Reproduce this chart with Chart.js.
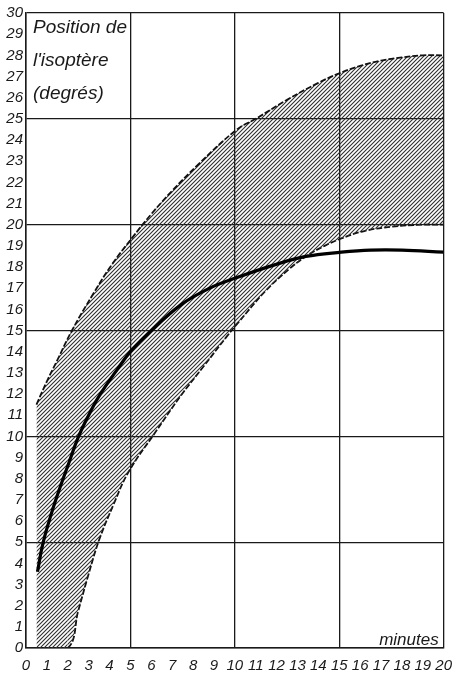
<!DOCTYPE html>
<html>
<head>
<meta charset="utf-8">
<script src="https://cdn.jsdelivr.net/npm/chart.js@4/dist/chart.umd.min.js"></script>
<style>
  html, body { margin: 0; padding: 0; background: #fff; }
  #wrap { width: 461px; height: 674px; }
</style>
</head>
<body>
<div id="wrap"><canvas id="isoChart"></canvas></div>
<script>
// values (minutes, degrees)
const mainX = [0.55, 0.8, 1.2, 1.6, 2.0, 2.5, 3.0, 3.5, 4.4, 5.0, 5.9, 7.4, 8.8, 10.1, 11.9, 13.4, 15.1, 16.5, 18, 20];
const mainY = [3.6, 4.9, 6.3, 7.5, 8.6, 9.95, 11.0, 11.9, 13.2, 14.0, 14.9, 16.2, 17.0, 17.5, 18.1, 18.5, 18.7, 18.8, 18.8, 18.7];

const upperX = [0.5, 1.0, 1.5, 2.2, 3.2, 4.1, 5.1, 6.0, 7.0, 8.2, 10.1, 11.0, 12.5, 14, 15, 16, 17, 18, 19, 20];
const upperY = [11.5, 12.6, 13.6, 15.0, 16.7, 18.1, 19.4, 20.5, 21.6, 22.8, 24.5, 25.0, 25.9, 26.7, 27.15, 27.5, 27.75, 27.9, 28, 28];

const lowerX = [0.5, 2.0, 2.5, 3.0, 3.5, 4.2, 4.9, 6.2, 7.4, 8.5, 9.6, 10.1, 11.5, 12.6, 13.4, 14.3, 15.1, 16.2, 17.5, 19, 20];
const lowerY = [0, 0, 1.75, 3.5, 5.1, 6.8, 8.3, 10.2, 11.9, 13.3, 14.7, 15.3, 16.9, 17.9, 18.5, 19.0, 19.35, 19.7, 19.9, 20, 20];

const titleLines = ['Position de', "l'isoptère", '(degrés)'];
const xLabel = 'minutes';

const FONT = '"Liberation Sans", sans-serif';
const INK = '#1a1a1a';

function toPoints(xs, ys) {
    return xs.map((x, i) => ({ x: x, y: ys[i] }));
}

// diagonal hatching for the band
function makeHatch() {
    const size = 4;
    const c = document.createElement('canvas');
    c.width = size;
    c.height = size;
    const g = c.getContext('2d');
    g.strokeStyle = '#2e2e2e';
    g.lineWidth = 1.1;
    g.beginPath();
    g.moveTo(-1, size + 1);
    g.lineTo(size + 1, -1);
    g.moveTo(-1, 1);
    g.lineTo(1, -1);
    g.moveTo(size - 1, size + 1);
    g.lineTo(size + 1, size - 1);
    g.stroke();
    return g.createPattern(c, 'repeat');
}

const hatch = makeHatch();

// texts written inside the plot
const labelsPlugin = {
    id: 'labels',
    afterDraw(chart) {
        const ctx = chart.ctx;
        const xs = chart.scales.x, ys = chart.scales.y;
        ctx.save();
        ctx.fillStyle = INK;
        ctx.font = 'italic 19px ' + FONT;
        ctx.textAlign = 'left';
        ctx.textBaseline = 'alphabetic';
        const left = xs.getPixelForValue(0) + 7;
        const top = ys.getPixelForValue(30);
        titleLines.forEach((t, i) => {
            ctx.fillText(t, left, top + 20 + i * 33);
        });
        ctx.font = 'italic 17px ' + FONT;
        ctx.textAlign = 'right';
        ctx.fillText(xLabel, xs.getPixelForValue(20) - 5, ys.getPixelForValue(0) - 3);
        ctx.restore();
    }
};

const gridColor = ctx => (ctx.tick && ctx.tick.value % 5 === 0) ? INK : 'transparent';

new Chart(document.getElementById('isoChart'), {
    type: 'line',
    data: {
        datasets: [
            {
                // mean curve
                data: toPoints(mainX, mainY),
                borderColor: '#000',
                borderWidth: 3.2,
                pointRadius: 0,
                tension: 0.4,
                fill: false
            },
            {
                // upper limit of the band
                data: toPoints(upperX, upperY),
                borderColor: '#111',
                borderWidth: 1.8,
                borderDash: [6, 2],
                pointRadius: 0,
                tension: 0.4,
                backgroundColor: hatch,
                fill: '+1'
            },
            {
                // lower limit of the band
                data: toPoints(lowerX, lowerY),
                borderColor: '#111',
                borderWidth: 1.8,
                borderDash: [6, 2],
                pointRadius: 0,
                tension: 0.4,
                fill: false,
                segment: {
                    borderColor: ctx => ctx.p0DataIndex === 0 ? 'transparent' : undefined
                }
            }
        ]
    },
    options: {
        responsive: true,
        maintainAspectRatio: false,
        animation: false,
        layout: { padding: { top: 13, right: 8, left: 0, bottom: 0 } },
        plugins: {
            legend: { display: false },
            tooltip: { enabled: false }
        },
        scales: {
            x: {
                type: 'linear',
                min: 0,
                max: 20,
                afterFit: scale => { scale.height = 26; },
                grid: { color: gridColor, lineWidth: 1.3, drawTicks: false },
                border: { color: INK, width: 1.5 },
                ticks: {
                    stepSize: 1,
                    autoSkip: false,
                    maxRotation: 0,
                    padding: 9,
                    color: INK,
                    font: { family: FONT, size: 15, style: 'italic' }
                }
            },
            y: {
                min: 0,
                max: 30,
                afterFit: scale => { scale.width = 26; },
                grid: { color: gridColor, lineWidth: 1.3, drawTicks: false },
                border: { color: INK, width: 1.5 },
                ticks: {
                    stepSize: 1,
                    autoSkip: false,
                    padding: 3,
                    color: INK,
                    font: { family: FONT, size: 15, style: 'italic' }
                }
            }
        }
    },
    plugins: [labelsPlugin]
});
</script>
</body>
</html>
